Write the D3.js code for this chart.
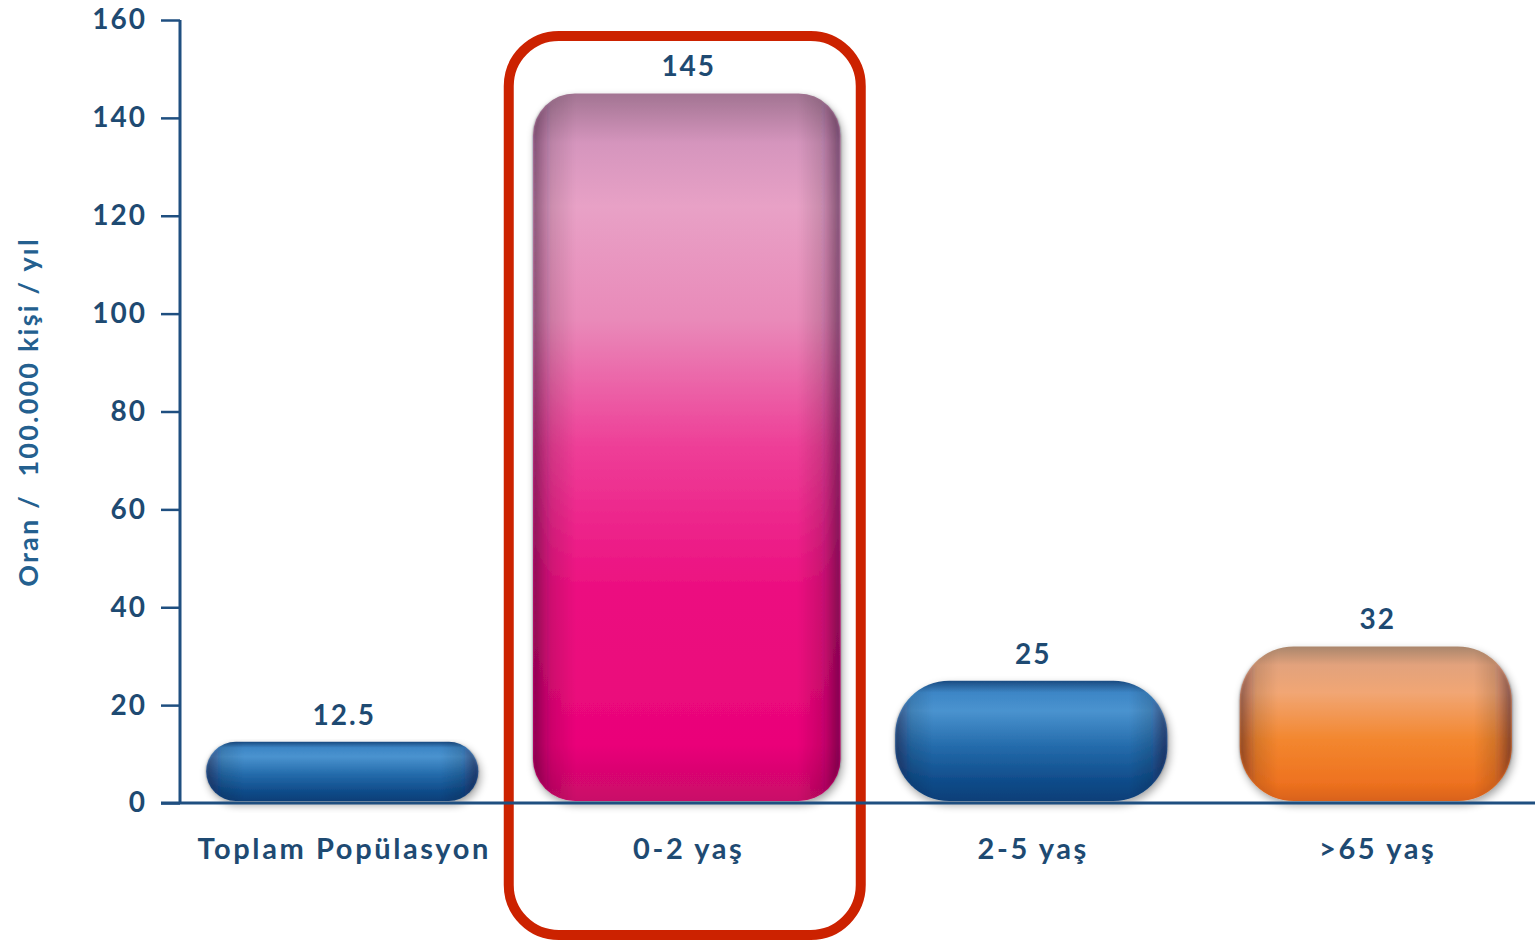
<!DOCTYPE html>
<html>
<head>
<meta charset="utf-8">
<script src="https://cdn.jsdelivr.net/npm/d3@7"></script>
<style>
  html, body { margin: 0; padding: 0; background: #ffffff; }
  svg { display: block; }
  text { font-family: "Lato", "DejaVu Sans", sans-serif; font-weight: 700; fill: #1e4a72; }
</style>
</head>
<body>
<svg id="chart" width="1535" height="942"></svg>
<script>
// Incidence per 100,000 people per year, by group
const categories = ["Toplam Popülasyon", "0-2 yaş", "2-5 yaş", ">65 yaş"];
const values = [12.5, 145, 25, 32];
const valueLabels = ["12.5", "145", "25", "32"];
const yTicks = [0, 20, 40, 60, 80, 100, 120, 140, 160];
const yTitle = "Oran /  100.000 kişi / yıl";
const highlighted = "0-2 yaş";
const palette = ["blue", "pink", "blue", "orange"];

const svg = d3.select("#chart");
const W = 1535, H = 942;
const margin = { left: 180, right: 0, top: 20, bottom: 139 };
const axisColor = "#1f4f80";

const x = d3.scaleBand().domain(categories).range([170, 1548]).paddingInner(0.21).paddingOuter(0.105);
const y = d3.scaleLinear().domain([0, 160]).range([H - margin.bottom, margin.top]);

const defs = svg.append("defs");

// vertical shading per colour family
const gradStops = {
  blue:   [[0, "#1a4a80"], [0.1, "#3d86c6"], [0.25, "#4a93cf"], [0.55, "#246bab"], [0.85, "#0e4a88"], [1, "#0b3f78"]],
  pink:   [[0, "#a27492"], [0.07, "#d595bd"], [0.16, "#e8a1c6"], [0.32, "#e98ab9"], [0.5, "#ee3e97"], [0.7, "#ec0f80"], [0.92, "#ea0479"], [1, "#c90868"]],
  orange: [[0, "#a9866c"], [0.12, "#e2a27c"], [0.3, "#f1a674"], [0.6, "#f3872f"], [0.88, "#ee7220"], [1, "#d9621a"]]
};
Object.entries(gradStops).forEach(([name, stops]) => {
  const g = defs.append("linearGradient").attr("id", "g-" + name)
    .attr("x1", 0).attr("y1", 0).attr("x2", 0).attr("y2", 1);
  stops.forEach(([o, c]) => g.append("stop").attr("offset", o).attr("stop-color", c));
});

// darker side edges for a rounded, pillow-like look
const side = defs.append("linearGradient").attr("id", "g-side")
  .attr("x1", 0).attr("y1", 0).attr("x2", 1).attr("y2", 0);
[[0, 0.45], [0.06, 0.12], [0.14, 0], [0.86, 0], [0.94, 0.14], [1, 0.5]].forEach(([o, a]) =>
  side.append("stop").attr("offset", o).attr("stop-color", "#1a0a20").attr("stop-opacity", a));

const blur = defs.append("filter").attr("id", "soft").attr("x", "-10%").attr("y", "-10%").attr("width", "120%").attr("height", "130%");
blur.append("feGaussianBlur").attr("in", "SourceAlpha").attr("stdDeviation", 4).attr("result", "b");
blur.append("feOffset").attr("in", "b").attr("dx", 2).attr("dy", 4).attr("result", "o");
blur.append("feComponentTransfer").attr("in", "o").attr("result", "s")
  .append("feFuncA").attr("type", "linear").attr("slope", 0.35);
const merge = blur.append("feMerge");
merge.append("feMergeNode").attr("in", "s");
merge.append("feMergeNode").attr("in", "SourceGraphic");

const edgeBlur = defs.append("filter").attr("id", "edge");
edgeBlur.append("feGaussianBlur").attr("stdDeviation", 1.2);

// highlight frame around the selected group
const hx = x(highlighted) + x.bandwidth() / 2;
svg.append("rect")
  .attr("x", hx - 178).attr("y", 36)
  .attr("width", 352).attr("height", H - 36 - 7)
  .attr("rx", 50).attr("ry", 50)
  .attr("fill", "none").attr("stroke", "#cc2200").attr("stroke-width", 10);

// bars
const bars = svg.append("g");
categories.forEach((c, i) => {
  const v = values[i];
  const w = c === highlighted ? x.bandwidth() * 1.13 : x.bandwidth();
  const cx = x(c) + x.bandwidth() / 2;
  const x0 = cx - w / 2;
  const yTop = y(v), yBot = y(0) - 2;
  const h = yBot - yTop;
  const r = Math.min(h / 2, c === highlighted ? 42 : 54);
  const g = bars.append("g").attr("filter", "url(#soft)");
  g.append("rect").attr("x", x0).attr("y", yTop).attr("width", w).attr("height", h)
    .attr("rx", r).attr("ry", r).attr("fill", `url(#g-${palette[i]})`);
  g.append("rect").attr("x", x0).attr("y", yTop).attr("width", w).attr("height", h)
    .attr("rx", r).attr("ry", r).attr("fill", "url(#g-side)").attr("filter", "url(#edge)");

  svg.append("text")
    .attr("x", cx + 2).attr("y", yTop - 17)
    .attr("text-anchor", "middle").attr("font-size", 28)
    .attr("letter-spacing", 2)
    .text(valueLabels[i]);
});

// y axis
const yAxis = svg.append("g").attr("transform", `translate(${margin.left},0)`)
  .call(d3.axisLeft(y).tickValues(yTicks).tickSize(19).tickPadding(14).tickFormat(d3.format("d")));
yAxis.select(".domain").attr("stroke", axisColor).attr("stroke-width", 3).attr("d", `M0,${y(160)}V${y(0)}`);
yAxis.selectAll(".tick line").attr("stroke", axisColor).attr("stroke-width", 2.5);
yAxis.selectAll(".tick text").attr("font-size", 28).attr("font-family", null)
  .attr("letter-spacing", 2).attr("fill", "#1e4a72");

// baseline
svg.append("line").attr("x1", 161).attr("x2", W).attr("y1", y(0)).attr("y2", y(0))
  .attr("stroke", axisColor).attr("stroke-width", 3);

// category labels
svg.append("g").selectAll("text").data(categories).join("text")
  .attr("x", d => x(d) + x.bandwidth() / 2 + 2)
  .attr("y", 859)
  .attr("text-anchor", "middle").attr("font-size", 29)
  .attr("letter-spacing", 2.6)
  .text(d => d);

// y axis title
svg.append("text")
  .attr("transform", `translate(38,${412}) rotate(-90)`)
  .attr("text-anchor", "middle").attr("font-size", 27)
  .attr("letter-spacing", 2.2)
  .style("white-space", "pre")
  .style("fill", "#24608f")
  .text(yTitle);
</script>
</body>
</html>
